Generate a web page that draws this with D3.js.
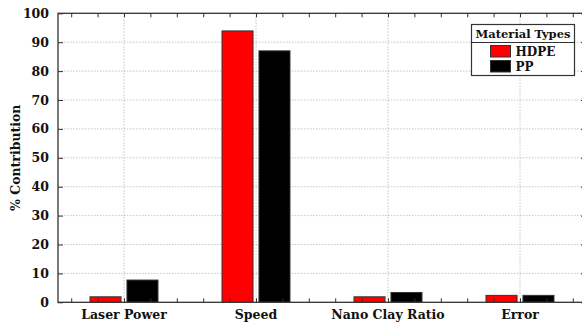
<!DOCTYPE html>
<html>
<head>
<meta charset="utf-8">
<script src="https://cdn.jsdelivr.net/npm/d3@7/dist/d3.min.js"></script>
<style>
  html, body { margin: 0; padding: 0; background: #fff; }
  svg { display: block; }
  text { font-family: "DejaVu Serif", "Liberation Serif", serif; font-weight: bold; fill: #111; }
</style>
</head>
<body>
<svg id="chart" width="582" height="324"></svg>
<script>
// Percentage contribution of each process factor, per material
const categories = ["Laser Power", "Speed", "Nano Clay Ratio", "Error"];
const hdpeValues = [1.9, 93.9, 1.9, 2.4];
const ppValues = [7.7, 87.0, 3.4, 2.4];
const seriesNames = ["HDPE", "PP"];
const seriesColors = ["#ff0000", "#000000"];
const yTicks = [0, 10, 20, 30, 40, 50, 60, 70, 80, 90, 100];
const legendTitle = "Material Types";
const yLabel = "% Contribution";

const svg = d3.select("#chart");
const plotLeft = 58, plotTop = 13.3, plotBottom = 302.3, plotRight = 586;

// Categories sit at integer positions 1..n on a continuous axis
const x = d3.scaleLinear().domain([0.5, categories.length + 0.5]).range([plotLeft, plotRight]);
const y = d3.scaleLinear().domain([0, 100]).range([plotBottom, plotTop]);

const series = [hdpeValues, ppValues];
const barOffset = [-0.14, 0.14];
const barWidth = 0.235;

svg.append("defs").append("clipPath").attr("id", "plotclip")
  .append("rect").attr("x", plotLeft).attr("y", plotTop)
  .attr("width", plotRight - plotLeft).attr("height", plotBottom - plotTop);

// Gridlines
const grid = svg.append("g").attr("stroke", "#b8b8b8").attr("stroke-width", 0.8).attr("stroke-dasharray", "1.5,1.5");
grid.selectAll("line.h").data(yTicks.slice(1, -1)).enter().append("line")
  .attr("x1", plotLeft).attr("x2", plotRight).attr("y1", d => y(d)).attr("y2", d => y(d));
grid.selectAll("line.v").data(categories).enter().append("line")
  .attr("x1", (d, i) => x(i + 1)).attr("x2", (d, i) => x(i + 1)).attr("y1", plotTop).attr("y2", plotBottom);

// Bars
const bars = svg.append("g").attr("clip-path", "url(#plotclip)");
series.forEach((vals, s) => {
  bars.selectAll(null).data(vals).enter().append("rect")
    .attr("x", (d, i) => x(i + 1 + barOffset[s] - barWidth / 2))
    .attr("width", x(barWidth) - x(0))
    .attr("y", d => y(d))
    .attr("height", d => y(0) - y(d))
    .attr("fill", seriesColors[s])
    .attr("stroke", "#333")
    .attr("stroke-width", 1);
});

// Frame and axes
const axisColor = "#333";
svg.append("rect").attr("x", plotLeft).attr("y", plotTop)
  .attr("width", plotRight - plotLeft).attr("height", plotBottom - plotTop)
  .attr("fill", "none").attr("stroke", axisColor).attr("stroke-width", 1.3);

const yAxis = d3.axisLeft(y).tickValues(yTicks).tickSize(-5).tickPadding(9).tickFormat(d3.format("d"));
const gy = svg.append("g").attr("transform", `translate(${plotLeft},0)`).call(yAxis);
gy.select(".domain").remove();
gy.selectAll("line").attr("stroke", axisColor);
gy.selectAll("text").attr("font-size", 12.5).style("font-family", '"DejaVu Serif", serif').style("font-weight", "bold").attr("fill", "#111");

// Mirrored ticks on the right edge
const gyr = svg.append("g").attr("transform", `translate(${plotRight},0)`)
  .call(d3.axisRight(y).tickValues(yTicks).tickSize(-5).tickFormat(""));
gyr.select(".domain").remove();
gyr.selectAll("line").attr("stroke", axisColor);

// Minor ticks along the bottom and top edges
const minor = d3.range(0.6, categories.length + 0.5, 0.2);
const gxb = svg.append("g").attr("transform", `translate(0,${plotBottom})`)
  .call(d3.axisBottom(x).tickValues(minor).tickSize(-4).tickFormat(""));
gxb.select(".domain").remove();
gxb.selectAll("line").attr("stroke", axisColor);
const gxt = svg.append("g").attr("transform", `translate(0,${plotTop})`)
  .call(d3.axisTop(x).tickValues(minor).tickSize(-4).tickFormat(""));
gxt.select(".domain").remove();
gxt.selectAll("line").attr("stroke", axisColor);

// Category labels
svg.append("g").selectAll("text").data(categories).enter().append("text")
  .attr("x", (d, i) => x(i + 1)).attr("y", 319)
  .attr("text-anchor", "middle").attr("font-size", 12.5)
  .text(d => d);

// Y axis title
svg.append("text")
  .attr("transform", `translate(20,${(plotTop + plotBottom) / 2}) rotate(-90)`)
  .attr("text-anchor", "middle").attr("font-size", 12.5)
  .text(yLabel);

// Legend
const lg = svg.append("g").attr("transform", "translate(471.5,24.5)");
lg.append("rect").attr("width", 103).attr("height", 51).attr("fill", "#fff").attr("stroke", "#333").attr("stroke-width", 1.2);
lg.append("line").attr("x1", 0).attr("x2", 103).attr("y1", 18).attr("y2", 18).attr("stroke", "#333").attr("stroke-width", 1);
lg.append("text").attr("x", 51.5).attr("y", 13.5).attr("text-anchor", "middle").attr("font-size", 11.5).text(legendTitle);
seriesNames.forEach((name, i) => {
  const yy = 21 + i * 15;
  lg.append("rect").attr("x", 19).attr("y", yy).attr("width", 20).attr("height", 11.5)
    .attr("fill", seriesColors[i]).attr("stroke", "#333").attr("stroke-width", 1);
  lg.append("text").attr("x", 44).attr("y", yy + 10.5).attr("font-size", 12).text(name);
});
</script>
</body>
</html>
